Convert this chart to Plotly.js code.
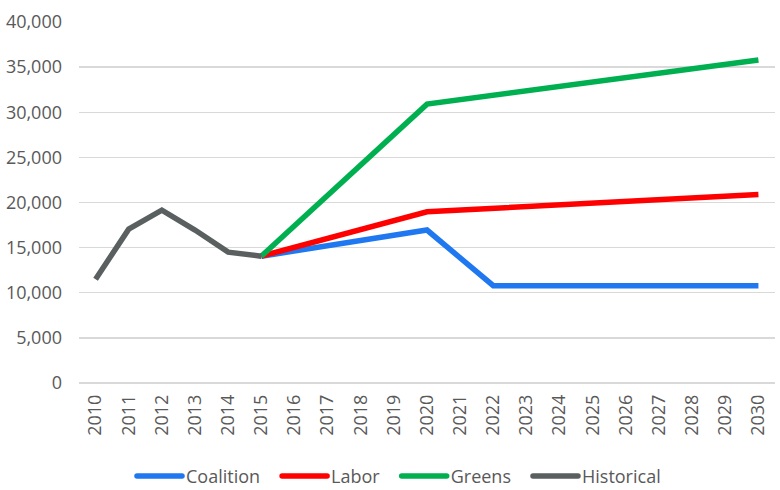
<!DOCTYPE html>
<html>
<head>
<meta charset="utf-8">
<script src="https://cdn.plot.ly/plotly-3.0.1.min.js"></script>
<style>html,body{margin:0;padding:0;background:#fff;}#chart{width:780px;height:490px;}</style>
</head>
<body>
<div id="chart"></div>
<script>
const years = ['2010','2011','2012','2013','2014','2015','2016','2017','2018','2019','2020','2021','2022','2023','2024','2025','2026','2027','2028','2029','2030'];

const historicalYears = ['2010','2011','2012','2013','2014','2015'];
const historicalValues = [11500, 17050, 19150, 16950, 14500, 14050];

const coalitionYears = ['2015','2020','2022','2030'];
const coalitionValues = [14050, 16950, 10780, 10780];

const laborYears = ['2015','2020','2030'];
const laborValues = [14050, 18970, 20900];

const greensYears = ['2015','2020','2030'];
const greensValues = [14050, 30900, 35800];

const font = {family: '"Open Sans", sans-serif', size: 18, color: '#595959'};

function line(name, x, y, color) {
  return {type: 'scatter', mode: 'lines', name: name, x: x, y: y,
    line: {color: color, width: 5.5, shape: 'linear'}, hoverinfo: 'skip'};
}

const data = [
  line('Coalition', coalitionYears, coalitionValues, '#1f78f0'),
  line('Labor', laborYears, laborValues, '#ff0000'),
  line('Greens', greensYears, greensValues, '#00b050'),
  line('Historical', historicalYears, historicalValues, '#5a5f5f')
];

const layout = {
  width: 780, height: 490,
  margin: {l: 79, r: 5, t: 22, b: 107, autoexpand: false},
  paper_bgcolor: '#ffffff', plot_bgcolor: '#ffffff',
  font: font,
  showlegend: true,
  legend: {orientation: 'h', x: 0.5, xanchor: 'center', xref: 'container',
    y: 0.028, yanchor: 'middle', yref: 'container',
    font: {family: '"Open Sans", sans-serif', size: 18, color: '#595959'},
    itemwidth: 30, tracegroupgap: 0},
  xaxis: {type: 'category', categoryorder: 'array', categoryarray: years, automargin: false,
    range: [-0.5, 20.5], tickangle: -90, showgrid: false, showline: false, zeroline: false,
    ticks: '', ticklabelstandoff: 7, tickfont: font, fixedrange: true},
  yaxis: {range: [0, 40000], dtick: 5000, tickformat: ',', showgrid: true, gridcolor: '#d9d9d9',
    gridwidth: 1.3, zeroline: true, zerolinecolor: '#d9d9d9', zerolinewidth: 1.3, showline: false,
    automargin: false, ticks: '', ticklabelstandoff: 16, tickfont: font, fixedrange: true}
};

Plotly.newPlot('chart', data, layout, {displayModeBar: false, staticPlot: true}).then(function (gd) {
  // Excel-style legend: long line samples, text close to the line, even gaps
  const legend = gd.querySelector('.legend');
  if (!legend) return;
  const m = /translate\(\s*([-\d.]+)[ ,]+([-\d.]+)/.exec(legend.getAttribute('transform') || '');
  const lx = m ? parseFloat(m[1]) : 0;
  const sb = legend.querySelector('.scrollbox');
  if (sb) sb.removeAttribute('clip-path');
  legend.querySelectorAll('rect.bg').forEach(function (r) { r.style.display = 'none'; });
  const items = Array.from(legend.querySelectorAll('.traces'));
  const lineLen = 45, textGap = 4, itemGap = 22;
  let x = 137;
  items.forEach(function (t) {
    const tm = /translate\(\s*([-\d.]+)[ ,]+([-\d.]+)/.exec(t.getAttribute('transform') || '');
    const ty = tm ? parseFloat(tm[2]) : 0;
    t.querySelectorAll('.legendlines path').forEach(function (p) {
      p.setAttribute('d', 'M0,0h' + lineLen);
      p.style.strokeLinecap = 'round';
    });
    const txt = t.querySelector('text.legendtext');
    let w = 60;
    if (txt) {
      txt.setAttribute('x', String(lineLen + textGap));
      w = txt.getComputedTextLength();
    }
    t.setAttribute('transform', 'translate(' + (x - lx) + ',' + ty + ')');
    x += lineLen + textGap + w + itemGap;
  });
});
</script>
</body>
</html>
